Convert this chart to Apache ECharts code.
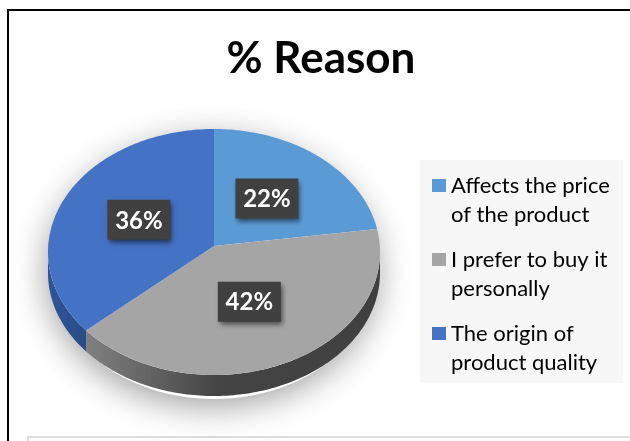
<!DOCTYPE html>
<html><head><meta charset="utf-8">
<script src="https://cdn.jsdelivr.net/npm/echarts@6/dist/echarts.min.js"></script>
<style>html,body{margin:0;padding:0;background:#fff}#c{width:630px;height:441px}</style>
</head><body><div id="c"></div>
<script>
const titleText = '% Reason';
const categories = ['Affects the price of the product', 'I prefer to buy it personally', 'The origin of product quality'];
const legendLabels = ['Affects the price\nof the product', 'I prefer to buy it\npersonally', 'The origin of\nproduct quality'];
const values = [22, 42, 36];
const colors = ['#5B9BD5', '#A5A5A5', '#4472C4'];
const sideColors = [
  ['#3f7ab5', '#3a72aa'],
  ['#808080', '#404040'],
  ['#2f5597', '#294c88']
];

const total = values.reduce((a, b) => a + b, 0);
const G = { cx: 214, cy: 252, rx: 166, ry: 123, depth: 21, hubY: 246 };
const FONT = 'Lato, "Open Sans", sans-serif';

function rim(t, dy) {
  return [G.cx + G.rx * Math.sin(t), G.cy - G.ry * Math.cos(t) + (dy || 0)];
}
function arcPts(a, b, dy) {
  const pts = [];
  const n = Math.max(8, Math.ceil((b - a) / 0.02));
  for (let i = 0; i <= n; i++) pts.push(rim(a + (b - a) * i / n, dy));
  return pts;
}

function makeRender(k) {
  return function (params, api) {
    const v = api.value(0);
    let before = 0;
    for (let i = 0; i < k; i++) before += values[i];
    const a0 = before / total * Math.PI * 2;
    const a1 = (before + v) / total * Math.PI * 2;
    const children = [];
    if (k === 0) {
      children.push({
        type: 'ellipse', z2: 0,
        shape: { cx: G.cx, cy: G.cy + G.depth / 2 + 3, rx: G.rx, ry: G.ry + G.depth / 2 },
        style: { fill: '#fff', shadowBlur: 34, shadowColor: 'rgba(0,0,0,0.38)', shadowOffsetX: -2, shadowOffsetY: 7 }
      });
    }
    const s0 = Math.max(a0, Math.PI / 2), s1 = Math.min(a1, Math.PI * 1.5);
    if (s1 > s0) {
      const top = arcPts(s0, s1, 0);
      const bot = arcPts(s0, s1, G.depth).reverse();
      const xs = top.map(p => p[0]);
      const minX = Math.min(...xs), maxX = Math.max(...xs);
      children.push({
        type: 'polygon', z2: 5,
        shape: { points: top.concat(bot) },
        style: {
          fill: {
            type: 'linear', global: true, x: maxX, y: 0, x2: minX, y2: 0,
            colorStops: k === 1
              ? [{ offset: 0, color: sideColors[k][1] }, { offset: 0.55, color: '#444444' }, { offset: 1, color: sideColors[k][0] }]
              : [{ offset: 0, color: sideColors[k][1] }, { offset: 1, color: sideColors[k][0] }]
          }
        }
      });
    }
    children.push({
      type: 'polygon', z2: 10,
      shape: { points: [[G.cx, G.hubY]].concat(arcPts(a0, a1, 0)) },
      style: { fill: colors[k] }
    });
    const mid = (a0 + a1) / 2;
    const lx = G.cx + 0.5 * G.rx * Math.sin(mid);
    const ly = G.hubY - 0.5 * G.ry * Math.cos(mid);
    children.push({
      type: 'rect', z2: 50,
      shape: { x: lx - 31.5, y: ly - 20, width: 63, height: 40 },
      style: { fill: '#404040', shadowBlur: 5, shadowOffsetX: 2, shadowOffsetY: 3, shadowColor: 'rgba(0,0,0,0.55)' }
    });
    children.push({
      type: 'text', z2: 60,
      style: {
        text: Math.round(v / total * 100) + '%', x: lx, y: ly + 1,
        align: 'center', verticalAlign: 'middle', fill: '#fff',
        font: 'bold 24px ' + FONT
      }
    });
    return { type: 'group', children };
  };
}

const chart = echarts.init(document.getElementById('c'), null, { renderer: 'canvas' });
chart.setOption({
  animation: false,
  backgroundColor: '#fff',
  color: colors,
  title: {
    text: titleText, left: 321, top: 37, textAlign: 'center', padding: 0,
    textStyle: { fontFamily: FONT, fontWeight: 'bold', fontSize: 44, color: '#000' }
  },
  legend: {
    orient: 'vertical', left: 432, top: 142, padding: 0,
    itemWidth: 14, itemHeight: 13, itemGap: -13, icon: 'rect',
    data: categories,
    formatter: name => '\n' + legendLabels[categories.indexOf(name)],
    textStyle: { fontFamily: FONT, fontSize: 22, lineHeight: 29, color: '#000' },
    selectedMode: false
  },
  graphic: [
    { type: 'rect', z: -10, shape: { x: 420, y: 160, width: 203, height: 223 }, style: { fill: '#F7F7F7' } },
    { type: 'polyline', z: -10, shape: { points: [[8, 441], [8, 10], [630, 10]] }, style: { stroke: '#000', lineWidth: 2, fill: null } },
    { type: 'rect', z: -10, shape: { x: 28, y: 437, width: 620, height: 20 }, style: { fill: '#fdfdfd', stroke: '#dcdcdc', lineWidth: 2 } }
  ],
  series: categories.map((name, k) => ({
    type: 'custom', name, coordinateSystem: 'none', silent: true,
    itemStyle: { color: colors[k] },
    renderItem: makeRender(k),
    data: [values[k]]
  }))
});
</script></body></html>
